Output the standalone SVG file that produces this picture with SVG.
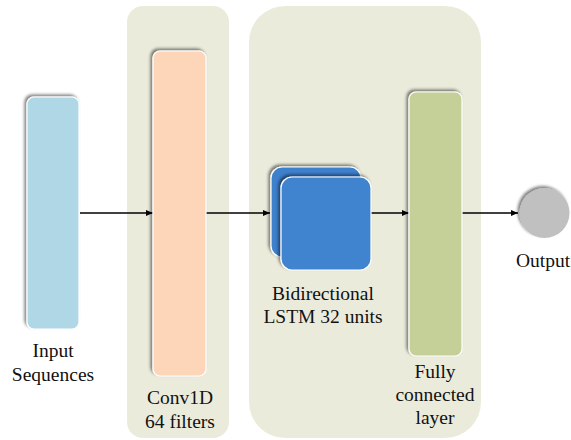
<svg xmlns="http://www.w3.org/2000/svg" width="571" height="440" viewBox="0 0 571 440">
<style>
.panel{fill:#ebebdc}
.bar{stroke:#ffffff;stroke-width:1.2;filter:url(#sh)}
.lbl{font-family:"Liberation Serif","Times New Roman",serif;font-size:19.5px;fill:#111;text-anchor:middle}
.conn{stroke:#000;stroke-width:1.5;fill:none;marker-end:url(#ah)}
</style>
<defs>
<filter id="sh" x="-20%" y="-20%" width="140%" height="140%">
<feGaussianBlur in="SourceAlpha" stdDeviation="1.5"/>
<feOffset dx="-2" dy="-2" result="b"/>
<feComponentTransfer><feFuncA type="linear" slope="0.5"/></feComponentTransfer>
<feMerge><feMergeNode/><feMergeNode in="SourceGraphic"/></feMerge>
</filter>
<marker id="ah" markerWidth="8" markerHeight="8" refX="7" refY="4" orient="auto" markerUnits="userSpaceOnUse">
<path d="M0,1 L7,4 L0,7 Z" fill="#000"/>
</marker>
</defs>
<rect width="571" height="440" fill="#fff"/>
<g id="panel-conv"><rect class="panel" x="127" y="6" width="102" height="432" rx="16"/></g>
<g id="panel-lstm"><rect class="panel" x="249" y="6" width="232" height="432" rx="36"/></g>
<g id="connectors">
<line class="conn" x1="80" y1="213" x2="153" y2="213"/>
<line class="conn" x1="206" y1="213" x2="270" y2="213"/>
<line class="conn" x1="371" y1="213" x2="409" y2="213"/>
<line class="conn" x1="462" y1="213" x2="518" y2="213"/>
</g>
<g id="input">
<rect class="bar" x="27" y="97" width="52" height="232" rx="7" fill="#b0d7e5"/>
<text class="lbl" x="53" y="357">Input</text>
<text class="lbl" x="53" y="381">Sequences</text>
</g>
<g id="conv1d">
<rect class="bar" x="153" y="51" width="53" height="325" rx="7" fill="#fdd5b8"/>
<text class="lbl" x="180" y="404">Conv1D</text>
<text class="lbl" x="180" y="428">64 filters</text>
</g>
<g id="lstm">
<rect class="bar" x="271" y="167" width="90" height="90" rx="11" fill="#3d80cc"/>
<rect class="bar" x="281" y="177" width="90" height="93" rx="11" fill="#3f84d0"/>
<text class="lbl" x="323" y="300">Bidirectional</text>
<text class="lbl" x="323" y="323">LSTM 32 units</text>
</g>
<g id="dense">
<rect class="bar" x="409" y="92" width="53" height="264" rx="7" fill="#c5cf98"/>
<text class="lbl" x="435" y="378">Fully</text>
<text class="lbl" x="435" y="401">connected</text>
<text class="lbl" x="435" y="424">layer</text>
</g>
<g id="output">
<circle cx="544.5" cy="213" r="25" fill="#c0c0c0" filter="url(#sh)"/>
<text class="lbl" x="543" y="267">Output</text>
</g>
</svg>
